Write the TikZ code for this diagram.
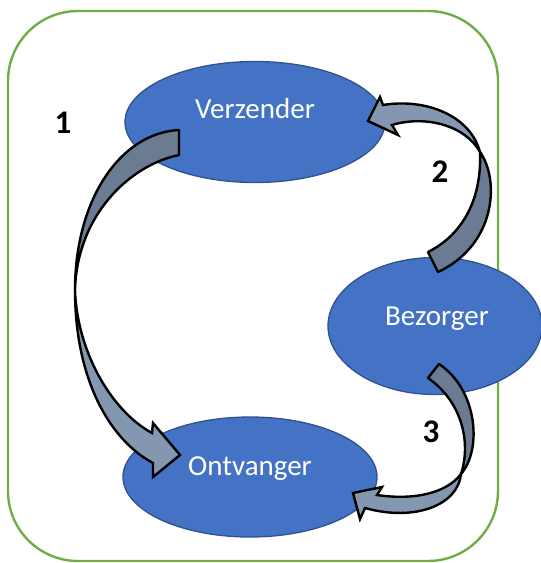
\documentclass[tikz,border=0pt]{standalone}
\usepackage{fontspec}
\setmainfont{Carlito}
\usepackage{tikz}
\usetikzlibrary{positioning,calc,shapes}
\definecolor{actorBlue} {HTML}{4472C4}
\definecolor{actorEdge} {HTML}{2F528F}
\definecolor{frameGreen}{HTML}{70AD47}
\definecolor{flowDark}  {HTML}{6A7B92}
\definecolor{flowLight} {HTML}{8497B0}
\tikzstyle{actor}      = [ellipse, draw=actorEdge, line width=1.3pt, fill=actorBlue, inner sep=0pt]
\tikzstyle{actorName}  = [anchor=base, text=white, font=\fontsize{29}{34}\selectfont]
\tikzstyle{flowBack}   = [fill=flowDark, draw=black, line width=2.4pt, line join=round]
\tikzstyle{flowFront}  = [fill=flowLight, draw=black, line width=2.4pt, line join=miter]
\tikzstyle{stepNumber} = [font=\fontsize{33}{38}\selectfont\bfseries]
\begin{document}
\begin{tikzpicture}[x=1pt,y=-1pt]
			\useasboundingbox (0,0) rectangle (541,563);
			\draw[frameGreen, line width=2.4pt, rounded corners=70pt] (8,11) rectangle (498,561);
			\node[actor, minimum width=260pt, minimum height=121pt] (verz) at (255,122) {};
			\node[actor, minimum width=254pt, minimum height=120pt] (ontv) at (250,477) {};
			\node[actor, minimum width=214pt, minimum height=137pt] (bez)  at (435,326) {};
			\node[actorName] (verzName) at ($(verz)+(0,-4)$) {Verzender};
			\node[actorName] (ontvName) at ($(ontv)+(0,-2)$) {Ontvanger};
			\node[actorName] (bezName)  at ($(bez)+(2,-1)$)  {Bezorger};
			% 1: verzender -> ontvanger
			\filldraw[flowBack]  (179,130) .. controls (120,133) and (75,200) .. (75,290)
			                               .. controls (77,215) and (130,165) .. (179,155) -- cycle;
			\filldraw[flowFront] (75,290) .. controls (75,380) and (110,440) .. (153,463)
			                     -- (153,477) -- (180,455) -- (153,423) -- (152,433)
			                     .. controls (110,410) and (77,350) .. (75,290) -- cycle;
			% 2: bezorger -> verzender
			\filldraw[flowBack]  (428,252) .. controls (462,235) and (482,200) .. (480,152)
			                               .. controls (500,180) and (496,245) .. (438,272) -- cycle;
			\filldraw[flowFront] (480,152) .. controls (470,115) and (425,98) .. (383,105)
			                     -- (380,97) -- (368,121) -- (398,135) -- (392,125)
			                     .. controls (425,115) and (465,125) .. (480,152) -- cycle;
			% 3: bezorger -> ontvanger
			\filldraw[flowBack]  (428,378) .. controls (460,400) and (472,440) .. (461,474)
			                               .. controls (482,450) and (478,390) .. (439,364) -- cycle;
			\filldraw[flowFront] (461,474) .. controls (445,495) and (410,500) .. (377,495)
			                     -- (382,487) -- (353,493) -- (360,519) -- (365,508)
			                     .. controls (415,522) and (458,505) .. (461,474) -- cycle;
			\node[stepNumber] (stepOne)   at (63,123)  {1};
			\node[stepNumber] (stepTwo)   at (440,172) {2};
			\node[stepNumber] (stepThree) at (431,432) {3};
		\end{tikzpicture}
\end{document}
